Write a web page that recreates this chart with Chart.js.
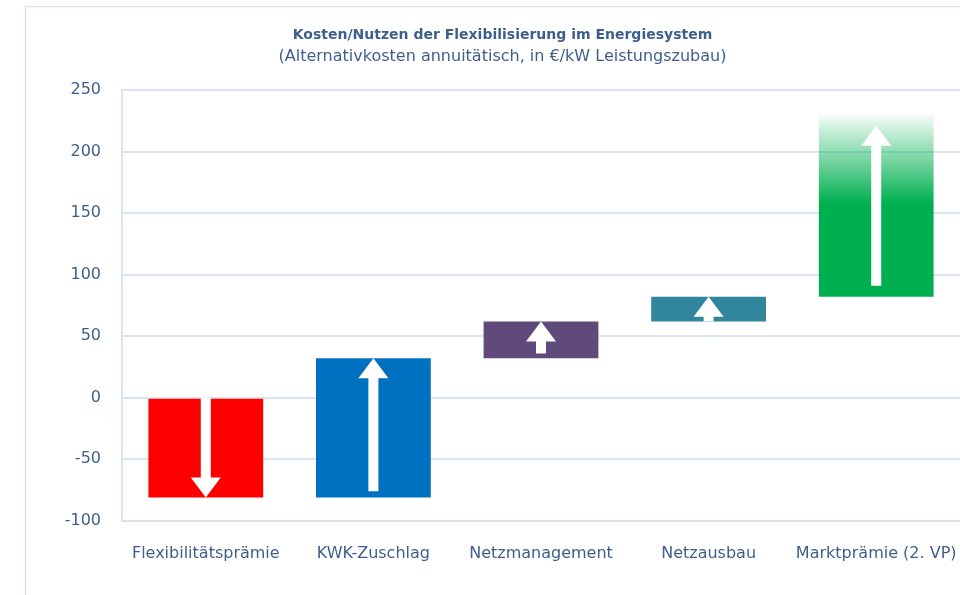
<!DOCTYPE html>
<html>
<head>
<meta charset="utf-8">
<script src="https://cdn.jsdelivr.net/npm/chart.js@4/dist/chart.umd.min.js"></script>
<style>
  html, body { margin: 0; padding: 0; background: #ffffff; }
  #wrap { width: 960px; height: 595px; position: relative; }
</style>
</head>
<body>
<div id="wrap"><canvas id="chart" width="960" height="595"></canvas></div>
<script>
// Categories and floating bar ranges (€/kW)
const categories = ['Flexibilitätsprämie', 'KWK-Zuschlag', 'Netzmanagement', 'Netzausbau', 'Marktprämie (2. VP)'];
const barStart = [0, -81, 32, 62, 82];
const barEnd = [-81, 32, 62, 82, 230];
// White direction arrows inside each bar (tail value -> tip value)
const arrowFrom = [0, -76, 36, 62, 91];
const arrowTo = [-81, 32, 62, 82, 221];
// Value where the fading top of the last bar becomes solid
const fadeSolidFrom = 158;
const barColors = ['#FF0000', '#0070C0', '#604A7B', '#31859C', '#00B050'];

const textColor = '#3E5F8C';
const gridColor = '#DAE4F3';
const fontFamily = '"DejaVu Sans", sans-serif';

// Light frame around the whole graphic
const framePlugin = {
  id: 'frame',
  beforeDraw(chart) {
    const ctx = chart.ctx;
    ctx.save();
    ctx.strokeStyle = '#D6E2F2';
    ctx.lineWidth = 1.5;
    ctx.beginPath();
    ctx.moveTo(25.5, chart.height + 2);
    ctx.lineTo(25.5, 6.5);
    ctx.lineTo(chart.width + 2, 6.5);
    ctx.stroke();
    ctx.restore();
  }
};

// Arrows drawn on top of the bars, positioned through the y scale
const arrowPlugin = {
  id: 'arrows',
  afterDatasetsDraw(chart) {
    const ctx = chart.ctx;
    const yScale = chart.scales.y;
    const meta = chart.getDatasetMeta(0);
    const shaft = 10, headW = 30, headL = 20;
    ctx.save();
    ctx.fillStyle = '#FFFFFF';
    meta.data.forEach((bar, i) => {
      const x = bar.x;
      const y0 = yScale.getPixelForValue(arrowFrom[i]);
      const y1 = yScale.getPixelForValue(arrowTo[i]);
      const dir = y1 < y0 ? -1 : 1; // -1 = pointing up
      const base = y1 - dir * headL;
      ctx.beginPath();
      ctx.moveTo(x - shaft / 2, y0);
      ctx.lineTo(x - shaft / 2, base);
      ctx.lineTo(x - headW / 2, base);
      ctx.lineTo(x, y1);
      ctx.lineTo(x + headW / 2, base);
      ctx.lineTo(x + shaft / 2, base);
      ctx.lineTo(x + shaft / 2, y0);
      ctx.closePath();
      ctx.fill();
    });
    ctx.restore();
  }
};

function barFill(context) {
  const i = context.dataIndex;
  const chart = context.chart;
  if (i !== 4 || !chart.chartArea) return barColors[i];
  const y = chart.scales.y;
  const top = y.getPixelForValue(barEnd[i]);
  const solid = y.getPixelForValue(fadeSolidFrom);
  const g = chart.ctx.createLinearGradient(0, top, 0, solid);
  g.addColorStop(0, 'rgba(0,176,80,0.04)');
  g.addColorStop(1, 'rgba(0,176,80,1)');
  return g;
}

new Chart(document.getElementById('chart'), {
  type: 'bar',
  data: {
    labels: categories,
    datasets: [{
      data: barStart.map((s, i) => [s, barEnd[i]]),
      backgroundColor: barFill,
      borderWidth: 0,
      borderSkipped: false,
      barPercentage: 0.685,
      categoryPercentage: 1.0
    }]
  },
  options: {
    responsive: false,
    animation: false,
    layout: { padding: { left: 45, right: 0, top: 27, bottom: 17 } },
    plugins: {
      legend: { display: false },
      tooltip: { enabled: false },
      title: {
        display: true,
        text: 'Kosten/Nutzen der Flexibilisierung im Energiesystem',
        color: textColor,
        font: { family: fontFamily, size: 14, weight: 'bold' },
        padding: { top: 0, bottom: 3 }
      },
      subtitle: {
        display: true,
        text: '(Alternativkosten annuitätisch, in €/kW Leistungszubau)',
        color: textColor,
        font: { family: fontFamily, size: 16 },
        padding: { top: 0, bottom: 24 }
      }
    },
    scales: {
      x: {
        grid: { display: false },
        border: { display: false },
        ticks: {
          color: textColor,
          font: { family: fontFamily, size: 16 },
          padding: 15,
          maxRotation: 0,
          autoSkip: false
        },
        afterFit(scale) { scale.paddingLeft = 0; scale.paddingRight = 0; }
      },
      y: {
        min: -100,
        max: 250,
        grid: { color: gridColor, lineWidth: 2, drawTicks: false },
        border: { color: gridColor, width: 2 },
        ticks: {
          stepSize: 50,
          color: textColor,
          font: { family: fontFamily, size: 16 },
          padding: 21
        },
        afterFit(scale) { scale.width = 77; }
      }
    }
  },
  plugins: [framePlugin, arrowPlugin]
});
</script>
</body>
</html>
